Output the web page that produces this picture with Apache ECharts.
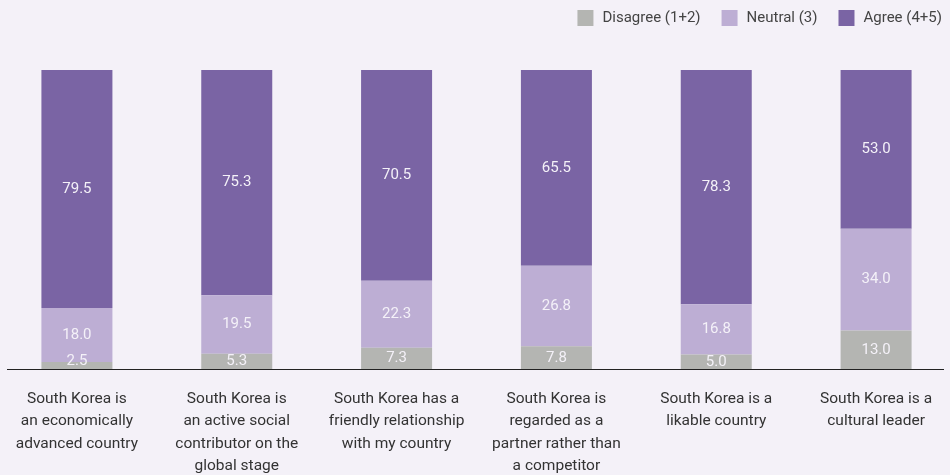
<!DOCTYPE html>
<html>
<head>
<meta charset="utf-8">
<script src="https://cdn.jsdelivr.net/npm/echarts@6/dist/echarts.min.js"></script>
<style>
  html, body { margin: 0; padding: 0; background: #f4f1f8; overflow: hidden; }
  #chart { width: 959px; height: 475px; margin-left: -3px; }
</style>
</head>
<body>
<div id="chart"></div>
<script>
// Perceptions of South Korea, share of respondents (%)
const categories = [
  'South Korea is\nan economically\nadvanced country',
  'South Korea is\nan active social\ncontributor on the\nglobal stage',
  'South Korea has a\nfriendly relationship\nwith my country',
  'South Korea is\nregarded as a\npartner rather than\na competitor',
  'South Korea is a\nlikable country',
  'South Korea is a\ncultural leader'
];
const disagree = [2.5, 5.3, 7.3, 7.8, 5.0, 13.0];
const neutral = [18.0, 19.5, 22.3, 26.8, 16.8, 34.0];
const agree = [79.5, 75.3, 70.5, 65.5, 78.3, 53.0];
const seriesNames = ['Disagree (1+2)', 'Neutral (3)', 'Agree (4+5)'];
const colors = ['#b4b5b2', '#bdaed4', '#7a64a4'];

const chart = echarts.init(document.getElementById('chart'));

const labelStyle = {
  show: true,
  position: 'inside',
  color: '#f4f1f8',
  fontSize: 15,
  fontFamily: 'Roboto',
  formatter: p => p.value.toFixed(1)
};

function makeSeries(name, values, color, z) {
  return {
    name: name,
    type: 'bar',
    stack: 'total',
    barWidth: 71,
    itemStyle: { color: color },
    label: labelStyle,
    // very thin segments keep their label readable just above the baseline
    data: values.map(v => (v < 4 ? { value: v, label: { offset: [0, -5] } } : v)),
    z: z
  };
}

chart.setOption({
  backgroundColor: '#f4f1f8',
  animation: false,
  textStyle: { fontFamily: 'Roboto' },
  legend: {
    top: 5,
    right: 9,
    itemWidth: 16,
    itemHeight: 16,
    itemGap: 21,
    icon: 'rect',
    textStyle: { color: '#444', fontSize: 15, padding: [0, 0, 0, 4] },
    data: seriesNames
  },
  grid: {
    left: 0, width: 959, top: 70, bottom: 105.5,
    containLabel: false,
    outerBoundsMode: 'none'
  },
  xAxis: {
    type: 'category',
    data: categories,
    axisLine: { show: false },
    axisTick: { show: false },
    axisLabel: {
      color: '#333',
      fontSize: 15.5,
      lineHeight: 22.5,
      margin: 18,
      interval: 0,
      align: 'center',
      verticalAlign: 'top'
    }
  },
  yAxis: {
    type: 'value',
    min: 0,
    max: 100,
    show: false
  },
  graphic: [{
    type: 'line',
    shape: { x1: 10, y1: 369.5, x2: 947, y2: 369.5 },
    style: { stroke: '#222', lineWidth: 1.2 },
    z: 10
  }],
  series: [
    makeSeries(seriesNames[0], disagree, colors[0], 6),
    makeSeries(seriesNames[1], neutral, colors[1], 4),
    makeSeries(seriesNames[2], agree, colors[2], 3)
  ]
});
</script>
</body>
</html>
